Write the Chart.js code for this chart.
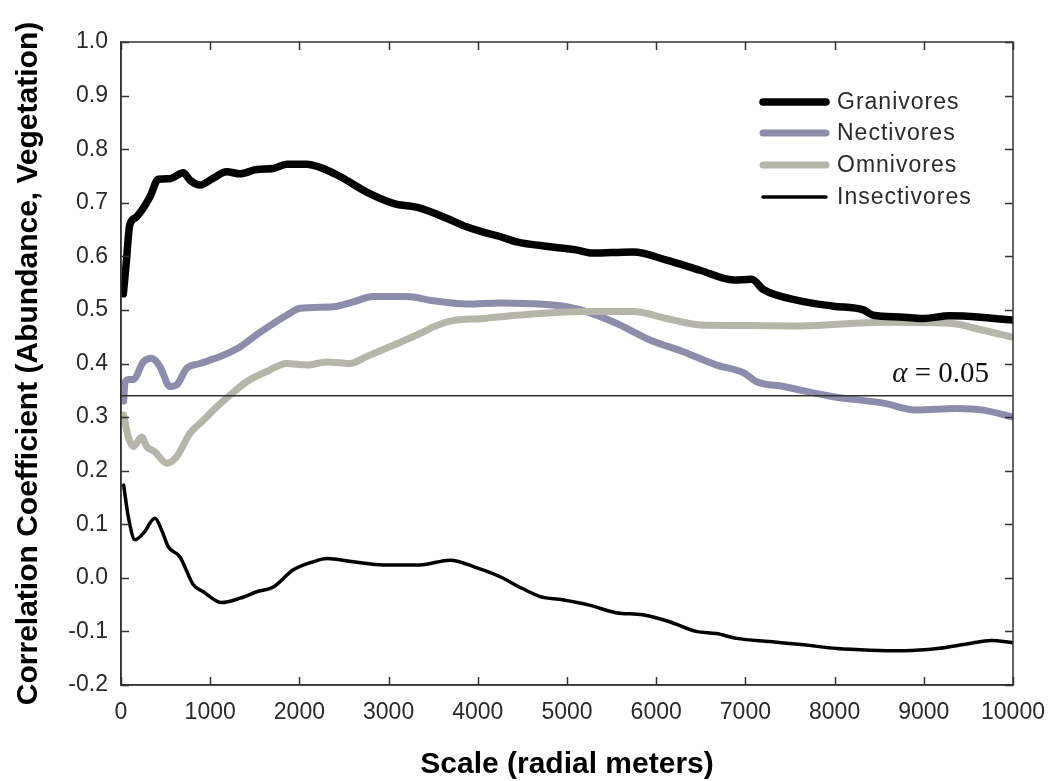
<!DOCTYPE html>
<html>
<head>
<meta charset="utf-8">
<script src="https://cdn.jsdelivr.net/npm/chart.js@4.4.1/dist/chart.umd.min.js"></script>
<style>
  html, body { margin: 0; padding: 0; background: #fff; }
  #wrap { width: 1050px; height: 781px; position: relative; }
</style>
</head>
<body>
<div id="wrap"><canvas id="c"></canvas></div>
<script>
// ---- data ----
const seriesNames = ['Granivores', 'Nectivores', 'Omnivores', 'Insectivores'];

const granX = [26, 60, 90, 101, 176, 250, 325, 419, 549, 698, 774, 886, 1035, 1184, 1334, 1521, 1707, 1857, 2082, 2231, 2455, 2754, 3053, 3352, 3651, 3875, 4062, 4249, 4436, 4809, 5100, 5295, 5500, 5743, 6117, 6491, 6865, 7071, 7201, 7612, 7986, 8322, 8434, 8733, 8995, 9294, 9667, 10000];
const granY = [0.53, 0.59, 0.65, 0.66, 0.674, 0.69, 0.711, 0.744, 0.745, 0.756, 0.742, 0.733, 0.746, 0.758, 0.754, 0.762, 0.764, 0.772, 0.772, 0.766, 0.749, 0.72, 0.699, 0.69, 0.671, 0.655, 0.645, 0.637, 0.627, 0.618, 0.612, 0.606, 0.607, 0.608, 0.593, 0.574, 0.556, 0.557, 0.538, 0.517, 0.507, 0.50, 0.49, 0.487, 0.484, 0.489, 0.486, 0.481];

const nectX = [30, 45, 90, 138, 250, 344, 437, 549, 624, 737, 886, 1110, 1334, 1558, 1857, 2007, 2380, 2604, 2829, 3203, 3502, 3875, 4249, 4548, 4996, 5254, 5553, 5930, 6304, 6678, 6977, 7126, 7426, 7986, 8547, 8921, 9369, 9667, 10000];
const nectY = [0.33, 0.365, 0.37, 0.37, 0.403, 0.41, 0.394, 0.357, 0.36, 0.391, 0.40, 0.413, 0.431, 0.458, 0.49, 0.503, 0.506, 0.515, 0.525, 0.525, 0.517, 0.511, 0.513, 0.512, 0.506, 0.495, 0.475, 0.444, 0.422, 0.397, 0.383, 0.366, 0.357, 0.338, 0.326, 0.313, 0.316, 0.313, 0.30];

const omniX = [30, 82, 138, 232, 288, 381, 512, 624, 774, 923, 1073, 1222, 1409, 1633, 1857, 2082, 2306, 2567, 2754, 3053, 3352, 3500, 3688, 4062, 4436, 5183, 5743, 6117, 6491, 7052, 7612, 8547, 9294, 9667, 10000];
const omniY = [0.304, 0.263, 0.245, 0.263, 0.245, 0.235, 0.214, 0.226, 0.27, 0.294, 0.319, 0.341, 0.366, 0.385, 0.40, 0.397, 0.403, 0.40, 0.413, 0.434, 0.456, 0.468, 0.479, 0.484, 0.49, 0.497, 0.497, 0.484, 0.472, 0.471, 0.47, 0.477, 0.475, 0.462, 0.449];

const insX = [30, 82, 157, 250, 381, 456, 530, 661, 811, 923, 1129, 1334, 1521, 1707, 1932, 2156, 2306, 2604, 2941, 3352, 3688, 4000, 4249, 4500, 4700, 4949, 5250, 5549, 5850, 6150, 6450, 6675, 6901, 7276, 7652, 8027, 8403, 8778, 9153, 9529, 9753, 10000];
const insY = [0.173, 0.114, 0.071, 0.083, 0.111, 0.089, 0.058, 0.039, -0.013, -0.026, -0.046, -0.038, -0.026, -0.017, 0.015, 0.03, 0.036, 0.03, 0.024, 0.024, 0.033, 0.018, 0.002, -0.02, -0.035, -0.041, -0.051, -0.065, -0.069, -0.082, -0.10, -0.104, -0.113, -0.119, -0.125, -0.132, -0.135, -0.136, -0.132, -0.122, -0.117, -0.121];

const alphaX = [0, 10000];
const alphaY = [0.34, 0.34];
const alphaLabel = ['α', ' = 0.05'];

const xTickLabels = ['0', '1000', '2000', '3000', '4000', '5000', '6000', '7000', '8000', '9000', '10000'];
const yTickLabels = ['-0.2', '-0.1', '0.0', '0.1', '0.2', '0.3', '0.4', '0.5', '0.6', '0.7', '0.8', '0.9', '1.0'];

const xTitle = 'Scale (radial meters)';
const yTitle = 'Correlation Coefficient (Abundance, Vegetation)';

// ---- chart ----
const pts = (xs, ys) => xs.map((x, i) => ({ x: x, y: ys[i] }));
const AXIS = '#333333';
const TXT = '#2a2a2a';

Chart.defaults.font.family = "'Liberation Sans', Arial, sans-serif";

const frameAndTicks = {
  id: 'frameAndTicks',
  afterDatasetsDraw(chart) {
    const { ctx, chartArea: a, scales } = chart;
    ctx.save();
    ctx.strokeStyle = AXIS;
    ctx.lineWidth = 1.5;
    ctx.strokeRect(a.left, a.top, a.right - a.left, a.bottom - a.top);
    const L = 8;
    ctx.beginPath();
    scales.x.ticks.forEach(t => {
      const px = Math.round(scales.x.getPixelForValue(t.value)) + 0.5;
      ctx.moveTo(px, a.bottom); ctx.lineTo(px, a.bottom - L);
      ctx.moveTo(px, a.top); ctx.lineTo(px, a.top + L);
    });
    scales.y.ticks.forEach(t => {
      const py = Math.round(scales.y.getPixelForValue(t.value)) + 0.5;
      ctx.moveTo(a.left, py); ctx.lineTo(a.left + L, py);
      ctx.moveTo(a.right, py); ctx.lineTo(a.right - L, py);
    });
    ctx.stroke();

    // alpha annotation
    const ax = scales.x.getPixelForValue(alphaX[1]) - 24;
    const ay = scales.y.getPixelForValue(alphaY[0]) - 14;
    ctx.fillStyle = '#111';
    ctx.textBaseline = 'alphabetic';
    ctx.textAlign = 'left';
    ctx.font = "29px 'Liberation Serif', 'Times New Roman', serif";
    const restW = ctx.measureText(alphaLabel[1]).width;
    ctx.font = "italic 29px 'Liberation Serif', 'Times New Roman', serif";
    const aW = ctx.measureText(alphaLabel[0]).width;
    const startX = ax - restW - aW;
    ctx.fillText(alphaLabel[0], startX, ay);
    ctx.font = "29px 'Liberation Serif', 'Times New Roman', serif";
    ctx.fillText(alphaLabel[1], startX + aW, ay);

    // legend
    const lx0 = 763, lx1 = 826, tx = 837;
    const ly = [102, 133, 165, 197];
    ctx.font = "23px 'Liberation Sans', Arial, sans-serif";
    try { ctx.letterSpacing = '1px'; } catch (e) {}
    ctx.textBaseline = 'middle';
    chart.data.datasets.forEach((ds, i) => {
      if (i >= seriesNames.length) return;
      ctx.strokeStyle = ds.borderColor;
      ctx.lineWidth = ds.borderWidth;
      ctx.lineCap = 'round';
      ctx.beginPath();
      ctx.moveTo(lx0, ly[i]); ctx.lineTo(lx1, ly[i]);
      ctx.stroke();
      ctx.fillStyle = TXT;
      ctx.fillText(ds.label, tx, ly[i] + 1);
    });
    ctx.restore();
  }
};

new Chart(document.getElementById('c'), {
  type: 'line',
  data: {
    datasets: [
      { label: seriesNames[0], data: pts(granX, granY), borderColor: '#000000', borderWidth: 7.5, order: 1 },
      { label: seriesNames[1], data: pts(nectX, nectY), borderColor: '#8d8dab', borderWidth: 7, order: 3 },
      { label: seriesNames[2], data: pts(omniX, omniY), borderColor: '#b5b5a9', borderWidth: 7, order: 2 },
      { label: seriesNames[3], data: pts(insX, insY), borderColor: '#000000', borderWidth: 3.5, order: 4 },
      { label: 'alpha', data: pts(alphaX, alphaY), borderColor: '#333333', borderWidth: 1.5, order: 0, cubicInterpolationMode: 'default', tension: 0 }
    ]
  },
  options: {
    responsive: true,
    maintainAspectRatio: false,
    animation: false,
    parsing: true,
    elements: {
      point: { radius: 0, hoverRadius: 0 },
      line: { cubicInterpolationMode: 'monotone', borderCapStyle: 'round', borderJoinStyle: 'round', fill: false }
    },
    layout: { padding: { top: 42, right: 37, left: 0, bottom: 0 } },
    plugins: { legend: { display: false }, tooltip: { enabled: false } },
    scales: {
      x: {
        type: 'linear', min: 0, max: 10000,
        grid: { display: false, drawTicks: false },
        border: { display: true, color: AXIS, width: 1.5 },
        ticks: {
          stepSize: 1000, padding: 14, color: TXT,
          font: { size: 23 },
          maxRotation: 0, autoSkip: false,
          callback: (v) => xTickLabels[Math.round(v / 1000)]
        },
        title: { display: true, text: xTitle, color: '#000', font: { size: 30, weight: 'bold', lineHeight: 1.1 }, padding: { top: 0, bottom: 0 } },
        afterFit: (s) => { s.height = 96; s.paddingLeft = 0; s.paddingRight = 0; }
      },
      y: {
        type: 'linear', min: -0.2, max: 1.0,
        grid: { display: false, drawTicks: false },
        border: { display: true, color: AXIS, width: 1.5 },
        ticks: {
          stepSize: 0.1, padding: 13, color: TXT,
          font: { size: 23 },
          callback: (v) => yTickLabels[Math.round((v + 0.2) * 10)]
        },
        title: { display: true, text: yTitle, color: '#000', font: { size: 30, weight: 'bold', lineHeight: 1.1 }, padding: { top: 12, bottom: 0 } },
        afterFit: (s) => { s.width = 121; s.paddingTop = 0; s.paddingBottom = 0; }
      }
    }
  },
  plugins: [frameAndTicks]
});
</script>
</body>
</html>
